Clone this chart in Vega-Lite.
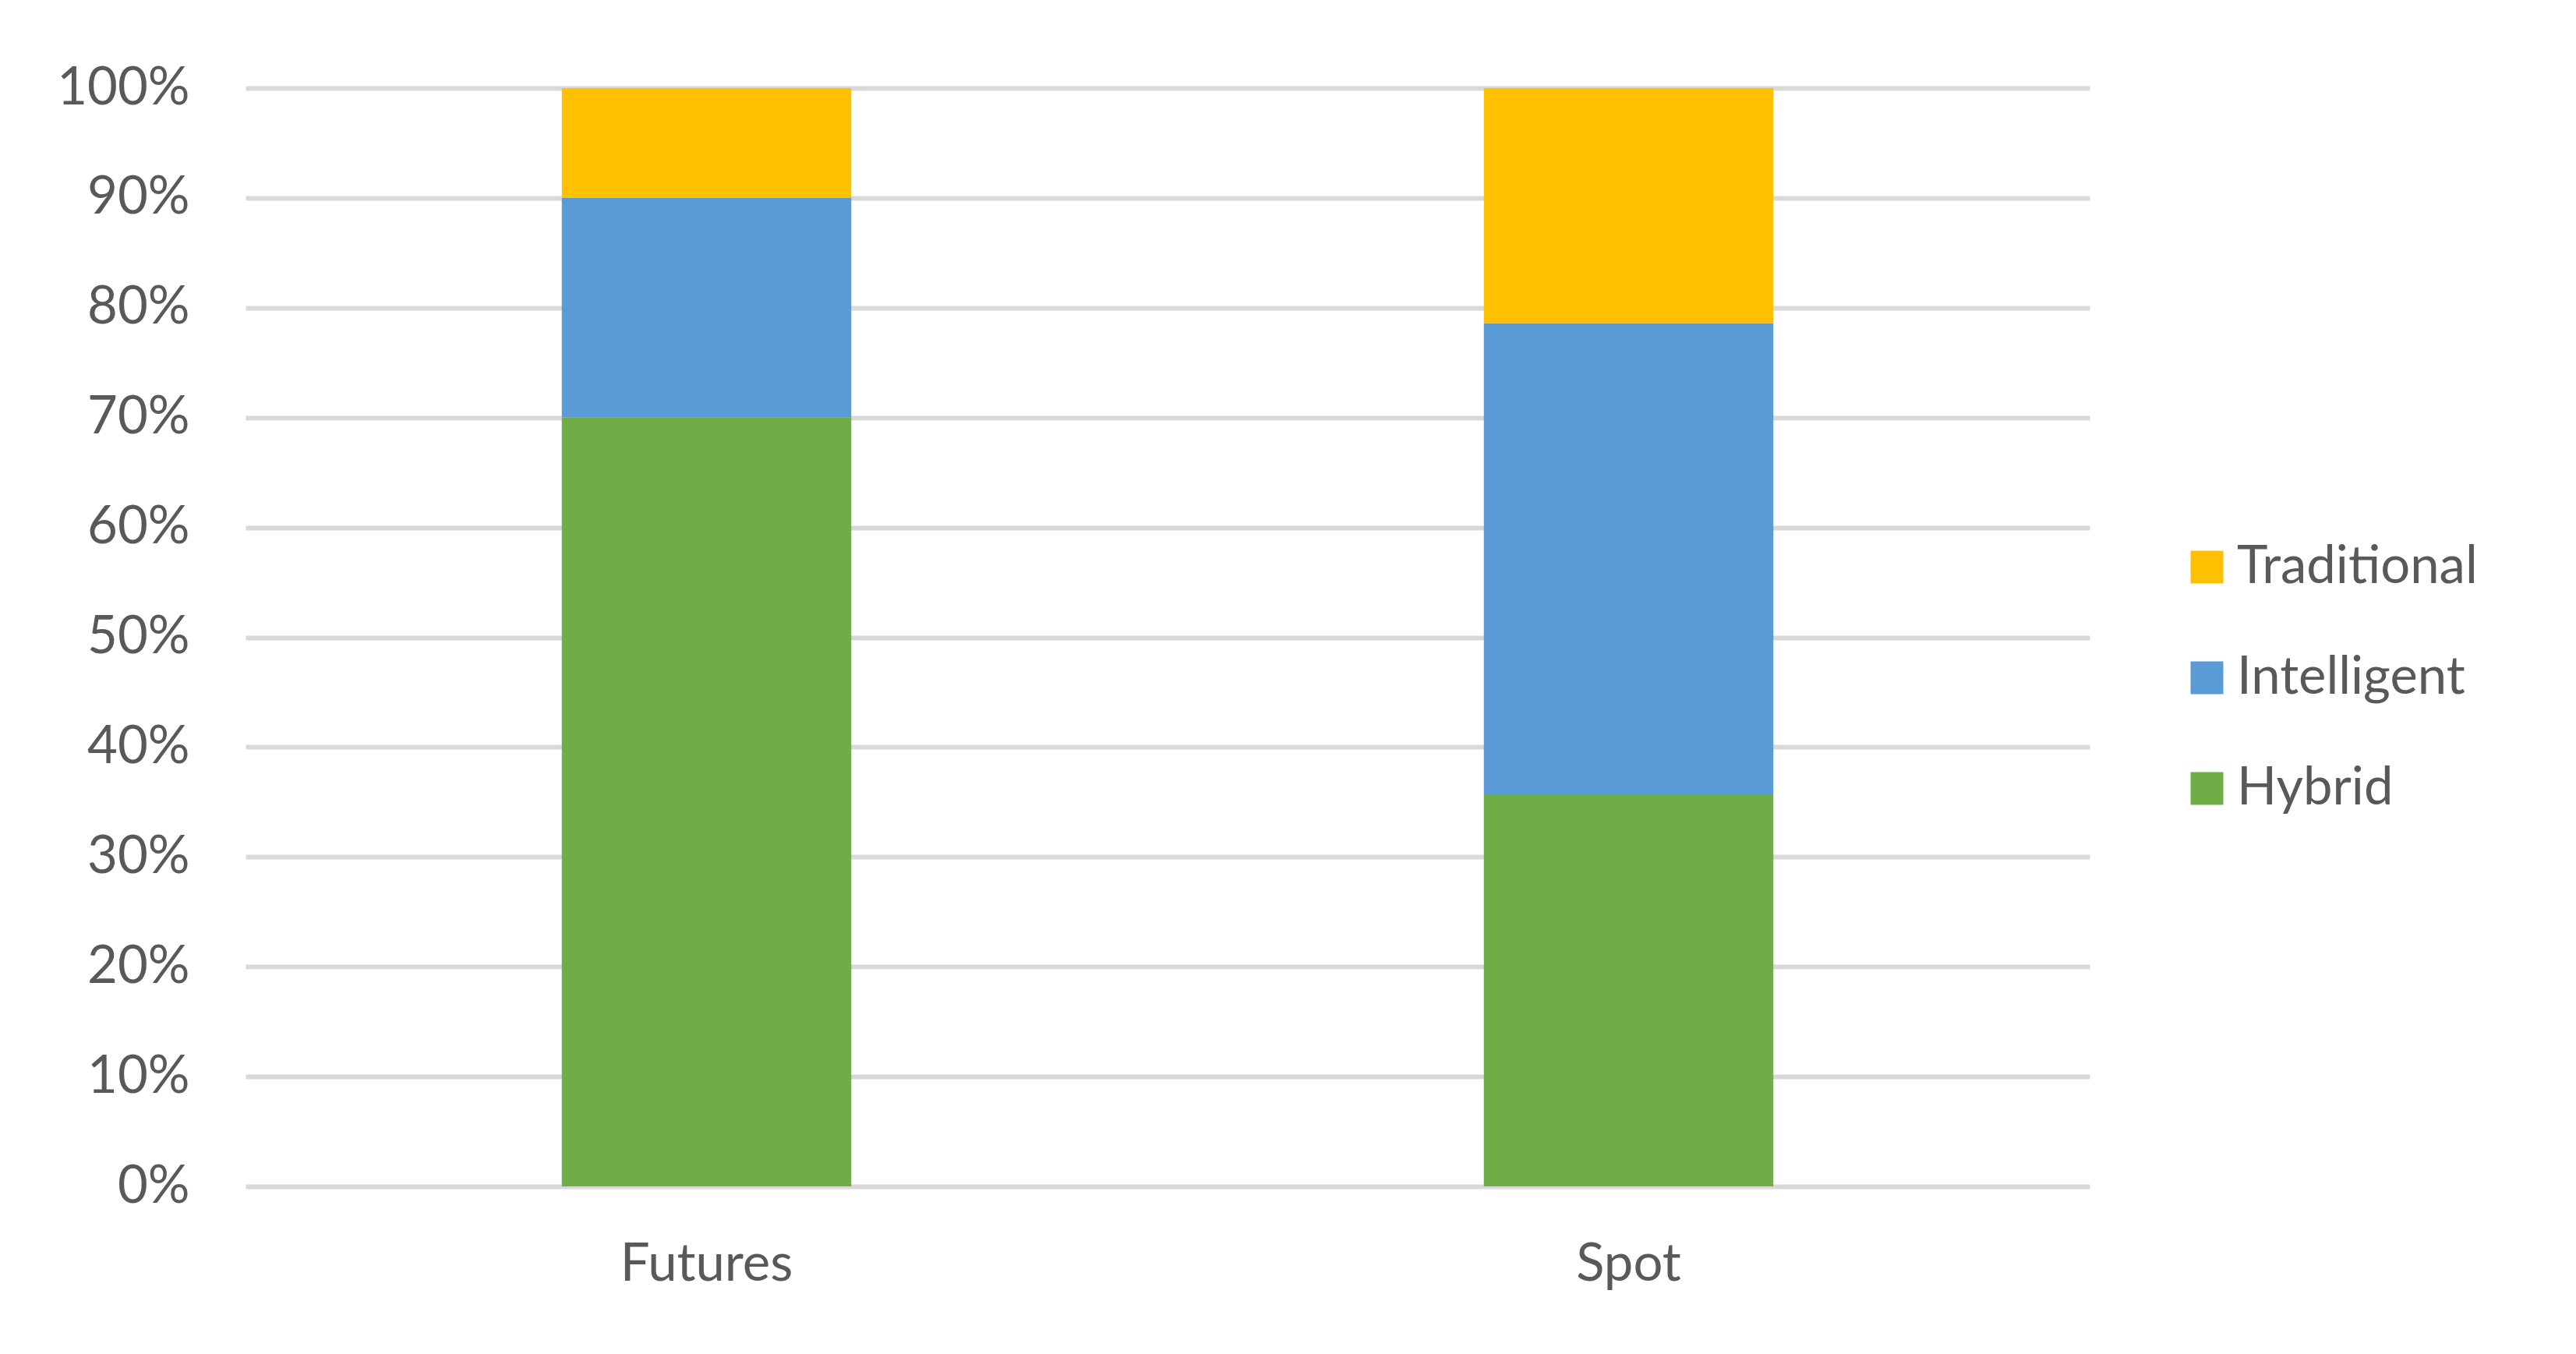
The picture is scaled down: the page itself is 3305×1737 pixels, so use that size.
{
  "$schema": "https://vega.github.io/schema/vega-lite/v6.json",
  "width": 2366,
  "height": 1409,
  "autosize": {"type": "none"},
  "padding": {"left": 315, "top": 113, "right": 624, "bottom": 215},
  "background": "white",
  "data": {
    "values": [
      {"market": "Futures", "type": "Hybrid", "share": 0.70, "ord": 1},
      {"market": "Futures", "type": "Intelligent", "share": 0.20, "ord": 2},
      {"market": "Futures", "type": "Traditional", "share": 0.10, "ord": 3},
      {"market": "Spot", "type": "Hybrid", "share": 0.357, "ord": 1},
      {"market": "Spot", "type": "Intelligent", "share": 0.429, "ord": 2},
      {"market": "Spot", "type": "Traditional", "share": 0.214, "ord": 3}
    ]
  },
  "mark": {"type": "bar"},
  "encoding": {
    "x": {
      "field": "market",
      "type": "nominal",
      "sort": ["Futures", "Spot"],
      "scale": {"paddingInner": 0.686, "paddingOuter": 0.343},
      "axis": {
        "title": null,
        "labelAngle": 0,
        "ticks": false,
        "tickSize": 0,
        "domain": false,
        "labelPadding": 67,
        "labelFont": "Lato",
        "labelFontSize": 67,
        "labelColor": "#595959",
        "labelLimit": 1000
      }
    },
    "y": {
      "field": "share",
      "type": "quantitative",
      "stack": "normalize",
      "scale": {"domain": [0, 1], "nice": false},
      "axis": {
        "title": null,
        "format": ".0%",
        "values": [0, 0.1, 0.2, 0.3, 0.4, 0.5, 0.6, 0.7, 0.8, 0.9, 1],
        "ticks": false,
        "tickSize": 0,
        "domain": false,
        "labelPadding": 72,
        "labelFont": "Lato",
        "labelFontSize": 67,
        "labelColor": "#595959",
        "gridColor": "#d9d9d9",
        "gridWidth": 6
      }
    },
    "color": {
      "field": "type",
      "type": "nominal",
      "scale": {
        "domain": ["Traditional", "Intelligent", "Hybrid"],
        "range": ["#ffc000", "#5b9bd5", "#70ad47"]
      },
      "legend": {
        "title": null,
        "orient": "none",
        "legendX": 2483,
        "legendY": 581,
        "symbolType": "square",
        "symbolSize": 1764,
        "symbolStrokeWidth": 0,
        "labelFont": "Lato",
        "labelFontSize": 67,
        "labelColor": "#595959",
        "labelOffset": 5,
        "rowPadding": 74,
        "labelLimit": 600
      }
    },
    "order": {"field": "ord", "type": "quantitative"}
  },
  "config": {
    "view": {"stroke": null}
  }
}
